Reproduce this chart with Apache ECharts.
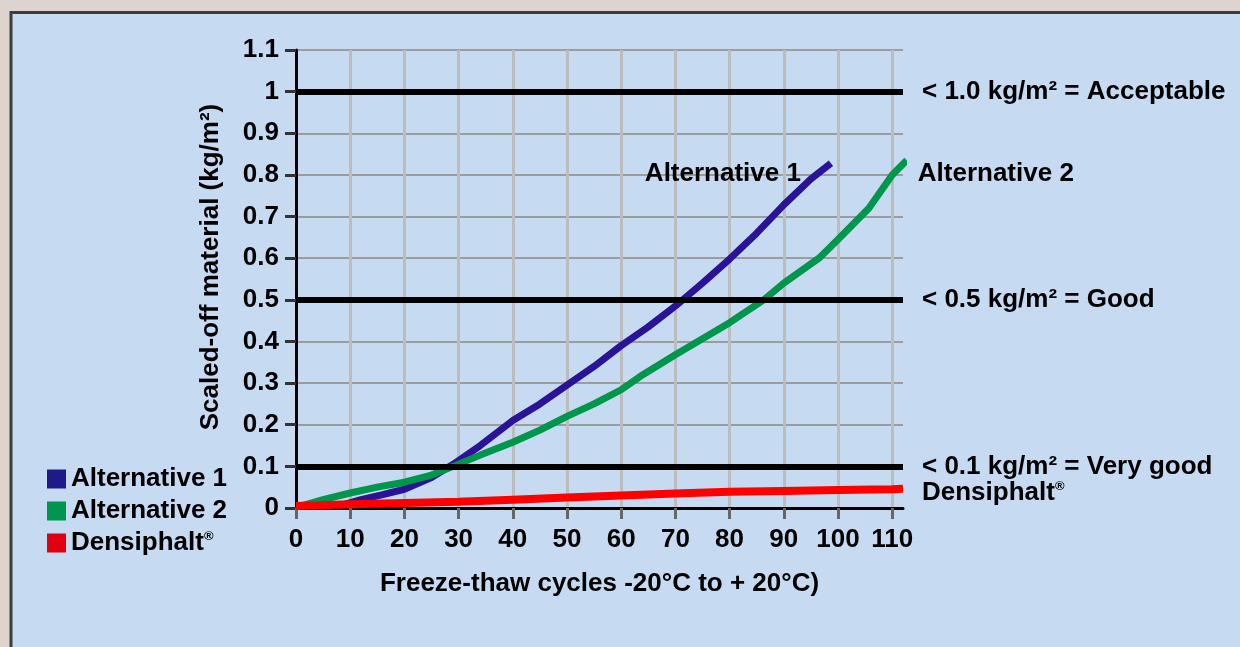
<!DOCTYPE html>
<html>
<head>
<meta charset="utf-8">
<script src="https://cdn.jsdelivr.net/npm/echarts@6/dist/echarts.min.js"></script>
<style>
html,body{margin:0;padding:0;background:#ddd4d0;}
#chart{width:1240px;height:647px;}
</style>
</head>
<body>
<div id="chart"></div>
<script>
// ---- data ----
const seriesNames = ['Alternative 1', 'Alternative 2', 'Densiphalt®'];
const alt1Cycles = [8, 12, 16, 20, 25, 29, 34, 40, 45, 50, 55, 60, 65, 70, 75, 80, 85, 90, 95, 98.7];
const alt1Values = [0.005, 0.02, 0.032, 0.045, 0.073, 0.105, 0.15, 0.21, 0.25, 0.295, 0.34, 0.39, 0.435, 0.485, 0.54, 0.598, 0.66, 0.728, 0.79, 0.828];
const alt2Cycles = [1, 5, 10, 15, 20, 25, 29, 34, 40, 45, 50, 55, 60, 63.4, 70, 80, 86.3, 90, 96.5, 100, 105.7, 110, 112.7];
const alt2Values = [0.005, 0.02, 0.036, 0.05, 0.062, 0.079, 0.1, 0.127, 0.158, 0.187, 0.22, 0.25, 0.284, 0.315, 0.368, 0.445, 0.5, 0.54, 0.6, 0.645, 0.72, 0.8, 0.835];
const densCycles = [0, 10, 20, 30, 40, 50, 60, 70, 80, 90, 100, 110, 112];
const densValues = [0.005, 0.009, 0.012, 0.015, 0.02, 0.025, 0.03, 0.035, 0.039, 0.041, 0.043, 0.045, 0.046];
const xTicks = [0, 10, 20, 30, 40, 50, 60, 70, 80, 90, 100, 110];
const thresholds = [0.1, 0.5, 1.0];
const thresholdLabels = ['< 0.1 kg/m² = Very good', '< 0.5 kg/m² = Good', '< 1.0 kg/m² = Acceptable'];
const xTitle = 'Freeze-thaw cycles -20°C to + 20°C)';
const yTitle = 'Scaled-off material (kg/m²)';

const zip = (xs, ys) => xs.map((x, i) => [x, ys[i]]);
const FONT = '"Liberation Sans", Arial, sans-serif';
const baseText = {fontFamily: FONT, fontWeight: 'bold', fontSize: 26, color: '#000'};
const richR = {r: {fontFamily: FONT, fontWeight: 'bold', fontSize: 13, color: '#000', verticalAlign: 'top', padding: [0, 0, 10, 0]}};

const chart = echarts.init(document.getElementById('chart'), null, {renderer: 'canvas'});
chart.setOption({
  backgroundColor: '#ddd4d0',
  animation: false,
  graphic: [{
    type: 'rect', z: -100, silent: true,
    shape: {x: 11, y: 12.5, width: 1260, height: 680},
    style: {fill: '#c6daf1', stroke: '#3c3c3c', lineWidth: 3}
  }],
  grid: {left: 296, right: 337, top: 50, bottom: 139, containLabel: false},
  legend: {
    orient: 'vertical', left: 42, top: 461,
    icon: 'rect', itemWidth: 19, itemHeight: 19, itemGap: 6,
    data: seriesNames,
    textStyle: Object.assign({}, baseText, {rich: Object.assign({a: baseText}, richR)}),
    formatter: n => n === 'Densiphalt®' ? '{a|Densiphalt}{r|®}' : n
  },
  xAxis: {
    type: 'value', min: 0, max: 112, interval: 10,
    name: xTitle, nameLocation: 'middle', nameGap: 63,
    nameTextStyle: baseText,
    axisLine: {show: true, onZero: false, lineStyle: {color: '#000', width: 3}},
    axisTick: {show: true, length: 11, customValues: xTicks, lineStyle: {color: '#666', width: 3}},
    axisLabel: Object.assign({margin: 19, customValues: xTicks}, baseText),
    splitLine: {show: true, lineStyle: {color: '#bcbcbc', width: 3}}
  },
  yAxis: {
    type: 'value', min: 0, max: 1.1, interval: 0.1,
    name: yTitle, nameLocation: 'middle', nameRotate: 90, nameGap: 72,
    nameTextStyle: Object.assign({padding: [0, 0, 0, 24]}, baseText),
    axisLine: {show: true, onZero: false, lineStyle: {color: '#000', width: 3}},
    axisTick: {show: true, length: 11, lineStyle: {color: '#333', width: 3}},
    axisLabel: Object.assign({margin: 17}, baseText),
    splitLine: {show: true, lineStyle: {color: '#9c9c9c', width: 2}}
  },
  series: [
    {
      name: seriesNames[0], type: 'line', data: zip(alt1Cycles, alt1Values),
      showSymbol: false, smooth: false, z: 3,
      itemStyle: {color: '#1e1a8c'},
      lineStyle: {color: '#2a1396', width: 7},
      endLabel: {show: true, formatter: () => seriesNames[0], align: 'right', offset: [-38, 11], ...baseText}
    },
    {
      name: seriesNames[1], type: 'line', data: zip(alt2Cycles, alt2Values),
      showSymbol: false, smooth: false, z: 3,
      itemStyle: {color: '#00964b'},
      lineStyle: {color: '#00964b', width: 7},
      endLabel: {show: true, formatter: () => seriesNames[1], offset: [3, 13], ...baseText}
    },
    {
      name: seriesNames[2], type: 'line', data: zip(densCycles, densValues),
      showSymbol: false, smooth: false, z: 4,
      itemStyle: {color: '#e0000f'},
      lineStyle: {color: '#ff0000', width: 8},
      endLabel: {show: true, formatter: () => '{a|Densiphalt}{r|®}', offset: [11, 4],
        rich: Object.assign({a: baseText}, richR)}
    },
    {
      name: 'thresholds', type: 'line', data: [], z: 2,
      markLine: {
        silent: true, symbol: 'none', animation: false,
        lineStyle: {color: '#000', width: 6, type: 'solid'},
        label: Object.assign({position: 'end', distance: 19}, baseText),
        data: thresholds.map((v, i) => ({yAxis: v, label: {formatter: thresholdLabels[i]}}))
      }
    }
  ]
});
</script>
</body>
</html>
